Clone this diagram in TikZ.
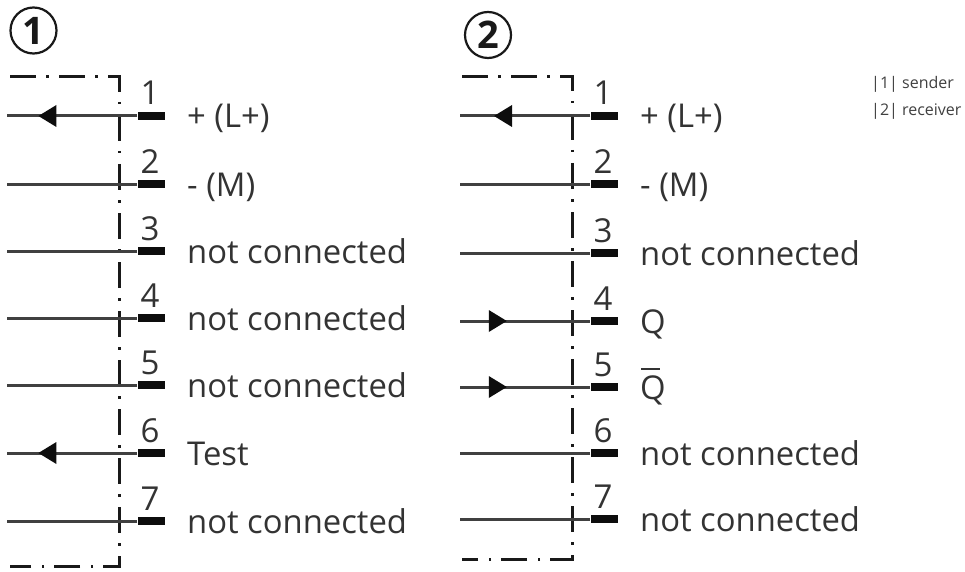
\documentclass[tikz,border=0pt]{standalone}
\usepackage{fontspec}
\setmainfont{Open Sans}
\usetikzlibrary{decorations.markings}
\tikzset{
  wire/.style={line width=3pt,draw=black!75},
  frame/.style={line width=3pt,draw=black!90,dash pattern=on 26pt off 10pt on 2.5pt off 10.5pt},
  pad/.style={fill=black!95,inner sep=0pt,minimum width=27pt,minimum height=8pt},
  pinnum/.style={font=\fontsize{33}{33}\selectfont,text=black!80,inner sep=0pt,anchor=base},
  lbl/.style={font=\fontsize{32.8}{33}\selectfont,text=black!80,inner sep=0pt,anchor=base west},
  note/.style={font=\fontsize{16}{16}\selectfont,text=black!75,inner sep=0pt,anchor=base west},
  badge/.style={circle,draw=black!90,line width=2.2pt,minimum size=46pt,inner sep=0pt,font=\fontsize{38}{38}\selectfont\bfseries,text=black!90},
  tip/.style={postaction={decorate},decoration={markings,mark=at position #1 with {\fill[black!95] (-9,-11) -- (9,0) -- (-9,11) -- cycle;}}}
}
\begin{document}
\begin{tikzpicture}[x=1pt,y=-1pt]
\useasboundingbox (0,0) rectangle (965,572);
% badges
\node[badge] (b1) at (33.5,30.5) {1};
\node[badge] (b2) at (488,35) {2};
% frames
\coordinate (f1a) at (10,77);\coordinate (f1b) at (119,77);\coordinate (f1c) at (119,566);\coordinate (f1d) at (10,566);
\coordinate (f2a) at (462,77);\coordinate (f2b) at (572,77);\coordinate (f2c) at (572,559);\coordinate (f2d) at (462,559);
\draw[frame] (f1a) -- (f1b) -- (f1c) -- (f1d);
\draw[frame] (f2a) -- (f2b) -- (f2c) -- (f2d);
% left pins
\foreach \n/\y/\t in {1/116/{+ (L+)},2/184/{- (M)},3/251/{not connected},4/318/{not connected},5/385/{not connected},6/453/{Test},7/521/{not connected}}{
  \node[pad] (lp\n) at (151,\y) {};
  \coordinate (lw\n) at (7,\y);
  \node[pinnum] (ln\n) at (150,\y-11) {\n};
  \node[lbl] (lt\n) at (187,\y+12) {\t};
}
\draw[wire,tip=0.69] (lp1.west) -- (lw1);
\draw[wire] (lp2.west) -- (lw2);
\draw[wire] (lp3.west) -- (lw3);
\draw[wire] (lp4.west) -- (lw4);
\draw[wire] (lp5.west) -- (lw5);
\draw[wire,tip=0.69] (lp6.west) -- (lw6);
\draw[wire] (lp7.west) -- (lw7);
% right pins
\foreach \n/\y/\t in {1/116/{+ (L+)},2/184/{- (M)},3/253/{not connected},4/321/{Q},5/387/{\rlap{\kern1pt\raisebox{29pt}{\rule{19pt}{2pt}}}Q},6/453/{not connected},7/519/{not connected}}{
  \node[pad] (rp\n) at (604,\y) {};
  \coordinate (rw\n) at (460,\y);
  \node[pinnum] (rn\n) at (603,\y-11) {\n};
  \node[lbl] (rt\n) at (640,\y+12) {\t};
}
\draw[wire,tip=0.67] (rp1.west) -- (rw1);
\draw[wire] (rp2.west) -- (rw2);
\draw[wire] (rp3.west) -- (rw3);
\draw[wire,tip=0.29] (rw4) -- (rp4.west);
\draw[wire,tip=0.29] (rw5) -- (rp5.west);
\draw[wire] (rp6.west) -- (rw6);
\draw[wire] (rp7.west) -- (rw7);
% notes
\node[note] (n1) at (871,89) {|1| sender};
\node[note] (n2) at (871,116) {|2| receiver};
\end{tikzpicture}
\end{document}
